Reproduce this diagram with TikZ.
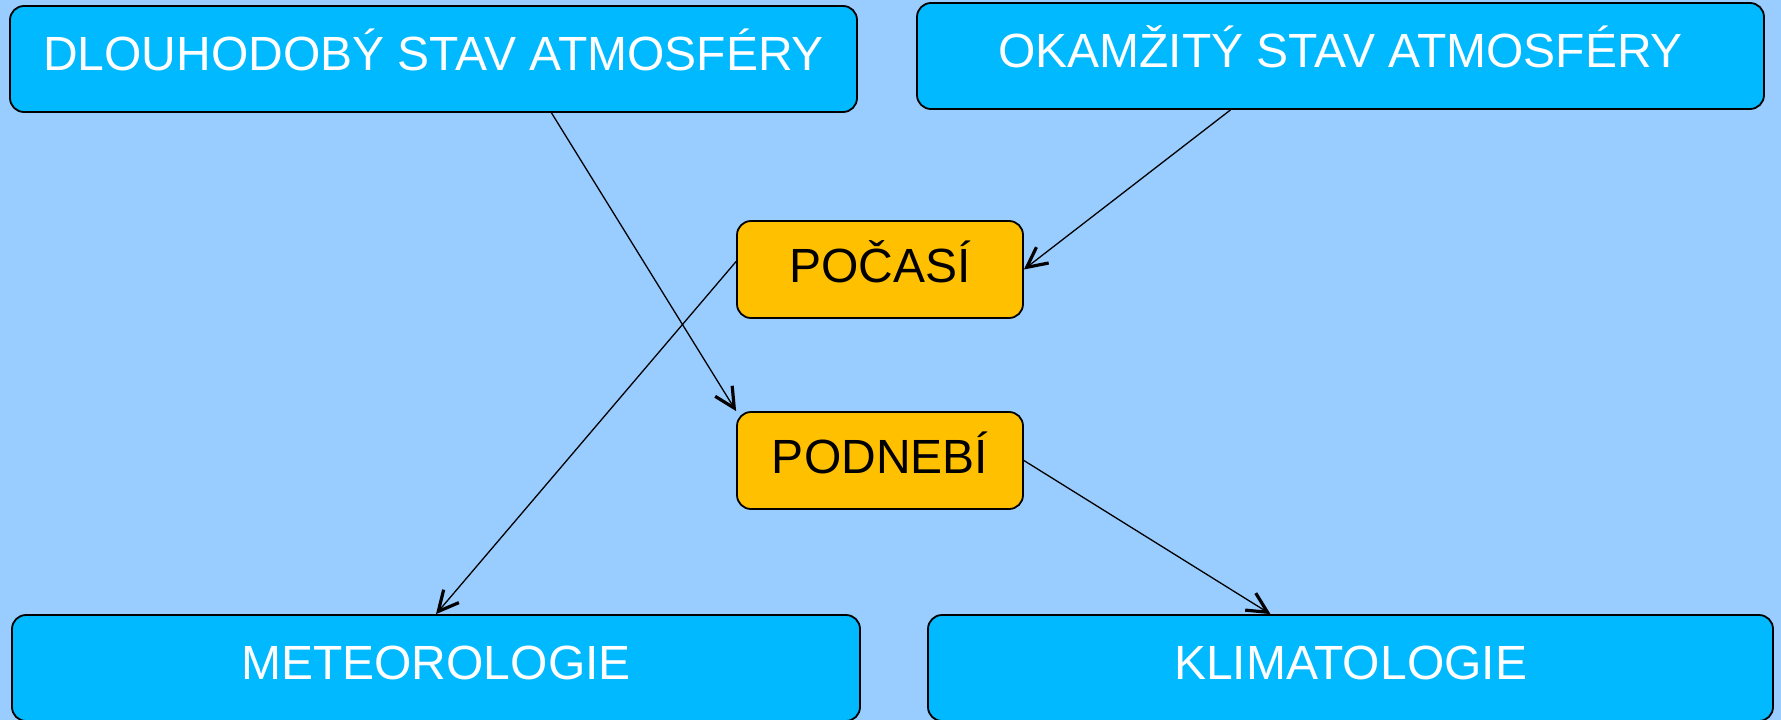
\documentclass[tikz,border=0pt]{standalone}
\usepackage{fontspec}
\setmainfont{Liberation Sans}
\usetikzlibrary{arrows.meta,calc}
\definecolor{skyback}{HTML}{99CCFF}
\definecolor{bluebox}{HTML}{00B9FF}
\definecolor{orangebox}{HTML}{FFC000}

\begin{document}
\begin{tikzpicture}[x=1pt, y=-1pt,
    box/.style={draw, line width=1.8pt, rounded corners=14pt, inner sep=0pt,
        font=\fontsize{48}{50}\selectfont, text height=35pt, text depth=12pt},
    bigbox/.style={box, fill=bluebox, text=white, minimum width=847pt, minimum height=106pt},
    smallbox/.style={box, fill=orangebox, text=black, minimum width=286pt, minimum height=97pt, text depth=9pt},
    conn/.style={line width=1.3pt, -{Straight Barb[length=20pt, width=20pt, line width=3.2pt]}}]
\useasboundingbox[fill=skyback] (0,0) rectangle (1781,720);
\clip (0,0) rectangle (1781,720);

\path (433.5, 59) node[bigbox] (dlouhodoby) {DLOUHODOBÝ STAV ATMOSFÉRY};
\path (1340.5, 56) node[bigbox] (okamzity) {OKAMŽITÝ STAV ATMOSFÉRY};
\path (880, 269.5) node[smallbox] (pocasi) {POČASÍ};
\path (880, 460.5) node[smallbox] (podnebi) {PODNEBÍ};
\path (436, 668) node[bigbox, minimum width=848pt] (meteorologie) {METEOROLOGIE};
\path (1350.5, 668) node[bigbox, minimum width=845pt] (klimatologie) {KLIMATOLOGIE};

\draw[conn] ([xshift=118pt]dlouhodoby.south) -- (podnebi.north west);
\draw[conn] ([xshift=-110pt]okamzity.south) -- (pocasi.east);
\draw[conn] ([yshift=8pt]pocasi.west) -- (meteorologie.north);
\draw[conn] (podnebi.east) -- ([xshift=-80pt]klimatologie.north);
\end{tikzpicture}
\end{document}
